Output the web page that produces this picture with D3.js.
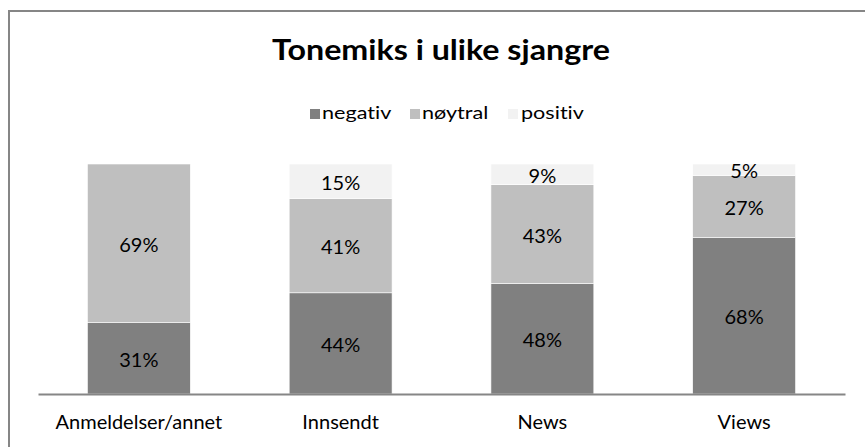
<!DOCTYPE html>
<html>
<head>
<meta charset="utf-8">
<script src="https://cdn.jsdelivr.net/npm/d3@7/dist/d3.min.js"></script>
<style>
  html, body { margin: 0; padding: 0; background: #fff; }
  svg { display: block; }
  text { font-family: Lato, "Open Sans", "DejaVu Sans", sans-serif; fill: #000; font-variant-ligatures: none; }
</style>
</head>
<body>
<script>
const categories = ["Anmeldelser/annet", "Innsendt", "News", "Views"];
const seriesNames = ["negativ", "nøytral", "positiv"];
const negativ = [31, 44, 48, 68];
const noytral = [69, 41, 43, 27];
const positiv = [0, 15, 9, 5];
const seriesColors = ["#808080", "#bfbfbf", "#f2f2f2"];
const title = "Tonemiks i ulike sjangre";

const W = 865, H = 447;
const svg = d3.select("body").append("svg").attr("width", W).attr("height", H);

// frame
svg.append("rect").attr("x", 9).attr("y", 11).attr("width", 880).attr("height", 460)
  .attr("fill", "#fff").attr("stroke", "#868686").attr("stroke-width", 2);

const rows = categories.map((c, i) => ({cat: c, negativ: negativ[i], "nøytral": noytral[i], positiv: positiv[i]}));
const stack = d3.stack().keys(seriesNames)(rows);

const x = d3.scaleBand().domain(categories).range([38, 845]).paddingInner(0.49).paddingOuter(0.245);
const y = d3.scaleLinear().domain([0, 100]).range([394, 164]);
const color = d3.scaleOrdinal().domain(seriesNames).range(seriesColors);

const g = svg.append("g");
stack.forEach(layer => {
  const lg = g.append("g");
  lg.selectAll("rect").data(layer.filter(d => d[1] - d[0] > 0)).join("rect")
    .attr("x", d => x(d.data.cat))
    .attr("y", d => y(d[1]))
    .attr("width", x.bandwidth())
    .attr("height", d => y(d[0]) - y(d[1]))
    .attr("fill", color(layer.key))
    .attr("stroke", "#fff").attr("stroke-width", 0.6);
});
stack.forEach(layer => {
  g.append("g").selectAll("text").data(layer.filter(d => d[1] - d[0] > 0)).join("text")
    .attr("x", d => x(d.data.cat) + x.bandwidth() / 2)
    .attr("y", d => (y(d[0]) + y(d[1])) / 2)
    .attr("dy", "0.42em")
    .attr("text-anchor", "middle")
    .style("font-size", "20px")
    .text(d => (d[1] - d[0]) + "%");
});

// x axis
const xAxis = svg.append("g").attr("transform", "translate(0,394)")
  .call(d3.axisBottom(x).tickSize(0).tickPadding(21));
xAxis.select(".domain").attr("stroke", "#868686").attr("stroke-width", 2);
xAxis.selectAll("text").style("font-size", "20px").style("font-family", "Lato, sans-serif").attr("fill", "#000");

// title
svg.append("text").attr("transform", "translate(441,60) scale(1.15,1)").attr("text-anchor", "middle")
  .style("font-size", "28px").style("font-weight", "bold").text(title);

// legend
const legendX = [310, 410, 508];
const legendTextX = [322, 422, 521];
const lg = svg.append("g");
seriesNames.forEach((s, i) => {
  lg.append("rect").attr("x", legendX[i]).attr("y", 109).attr("width", 10).attr("height", 10).attr("fill", seriesColors[i]);
  lg.append("text").attr("transform", `translate(${legendTextX[i]},119) scale(1.2,1)`).style("font-size", "18px").text(s);
});
</script>
</body>
</html>
